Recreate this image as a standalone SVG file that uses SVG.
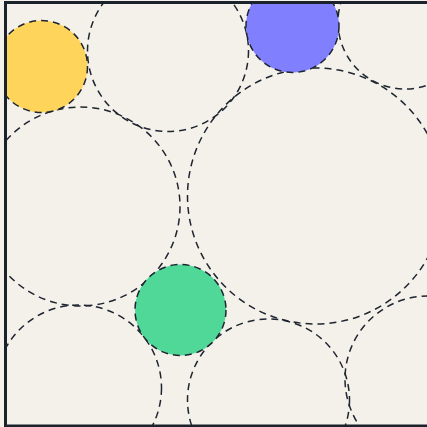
<svg xmlns="http://www.w3.org/2000/svg" width="427" height="427" viewBox="0 0 427 427">
<style>
.d{fill:none;stroke:#1e2530;stroke-width:1.5;stroke-dasharray:7 5}
.f{stroke:#1e2530;stroke-width:1.5;stroke-dasharray:7 5}
</style>
<defs>
<clipPath id="frame"><rect x="5.5" y="2.5" width="430" height="423.5"/></clipPath>
</defs>
<rect x="0" y="0" width="427" height="427" fill="#f4f0ea"/>
<g clip-path="url(#frame)">
<g id="outline-circles">
<circle id="c-topmid" class="d" cx="168" cy="51" r="80.5"/>
<circle id="c-left" class="d" cx="80.5" cy="206.5" r="99.5"/>
<circle id="c-right" class="d" cx="315.5" cy="196" r="128"/>
<circle id="c-topright" class="d" cx="405" cy="22" r="67"/>
<circle id="c-botleft" class="d" cx="78.5" cy="388" r="83"/>
<circle id="c-botmid" class="d" cx="268.5" cy="400" r="81"/>
<circle id="c-botright" class="d" cx="428" cy="379" r="83"/>
</g>
<g id="yellow"><circle class="f" cx="41.5" cy="66.5" r="46" fill="#ffd45a"/></g>
<g id="blue"><circle class="f" cx="292.5" cy="26" r="46.5" fill="#8080ff"/></g>
<g id="green"><circle class="f" cx="180.5" cy="310" r="45.5" fill="#50d898"/></g>
</g>
<rect x="5.5" y="2.5" width="430" height="423.5" fill="none" stroke="#1b222c" stroke-width="3"/>
</svg>
